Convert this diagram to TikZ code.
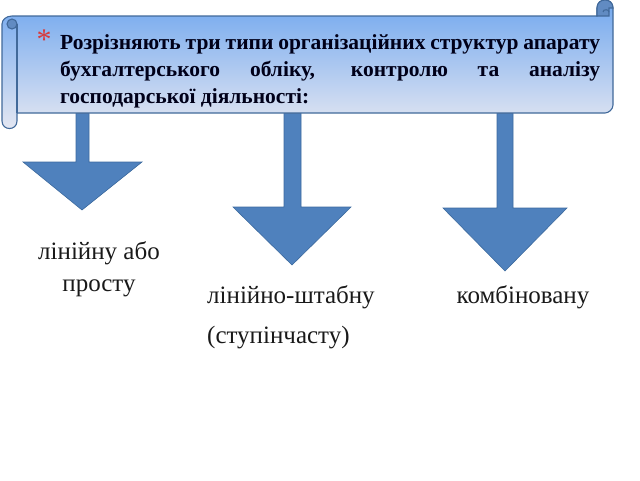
\documentclass[tikz,border=0pt]{standalone}
\usepackage{fontspec}
\setmainfont{Liberation Serif}
\definecolor{arrowblue}{HTML}{4F81BD}
\definecolor{arrowedge}{HTML}{3C6A9E}
\definecolor{scrolltop}{HTML}{6FA6EE}
\definecolor{scrollbottom}{HTML}{E6E8F2}
\definecolor{scrolledge}{HTML}{41699A}
\definecolor{bulletred}{HTML}{D9393A}
\begin{document}
\begin{tikzpicture}[x=1pt,y=-1pt,
    blockarrow/.style={fill=arrowblue,draw=arrowedge,line width=0.6pt},
    scrollline/.style={draw=scrolledge,line width=1.1pt},
    kindtext/.style={inner sep=0pt,text=black!90,font=\fontsize{25}{32}\selectfont}]
    \useasboundingbox (0,0) rectangle (640,480);
    % arrows
    \draw[blockarrow] (76,113) -- (76,162) -- (23,162) -- (82,210) -- (142,162) -- (89,162) -- (89,113) -- cycle;
    \draw[blockarrow] (284,113) -- (284,207) -- (233,207) -- (292,265) -- (351,207) -- (301,207) -- (301,113) -- cycle;
    \draw[blockarrow] (497,113) -- (497,208) -- (443,208) -- (505,271) -- (567,208) -- (513,208) -- (513,113) -- cycle;
    % scroll
    \path[scrollline,top color=scrolltop,bottom color=scrollbottom]
        (12,16) -- (597,16) -- (597,8) .. controls (597,-2.7) and (613,-2.7) .. (613,8)
        -- (613,105) .. controls (613,109.4) and (608.6,113) .. (605,113)
        -- (17,113) -- (17,121) .. controls (17,131) and (2,131) .. (2,121)
        -- (2,24) .. controls (2,19.6) and (6.5,16) .. (12,16) -- cycle;
    \draw[scrollline,fill=scrolltop!80!black!95] (12,24) circle[radius=5];
    \draw[scrollline] (17,24) -- (17,113);
    \draw[scrollline,fill=scrolltop!80!black!95] (597,16) -- (597,8) .. controls (597,-2.7) and (613,-2.7) .. (613,8) -- (609,8) -- (609,16) -- cycle;
    \draw[scrollline] (603,12) .. controls (603,9) and (609,9) .. (609,12);
    % text
    \node[inner sep=0pt,text=bulletred,font=\fontsize{30}{30}\selectfont] (star) at (44,40) {*};
    \node[anchor=north west,text width=540pt,align=justify,inner sep=0pt,text=black!90!blue,
        font=\bfseries\fontsize{21.5}{27}\selectfont] (title) at (60,34)
        {Розрізняють три типи організаційних структур апарату\linebreak
         бухгалтерського обліку, контролю та аналізу\linebreak
         господарської діяльності:};
    \node[kindtext,align=center] (linear) at (99,269) {лінійну або\\просту};
    \node[kindtext,align=left,anchor=west,font=\fontsize{25}{40}\selectfont] (staff) at (207,317) {лінійно-штабну\\(ступінчасту)};
    \node[kindtext] (combined) at (523,297) {комбіновану};
\end{tikzpicture}
\end{document}
